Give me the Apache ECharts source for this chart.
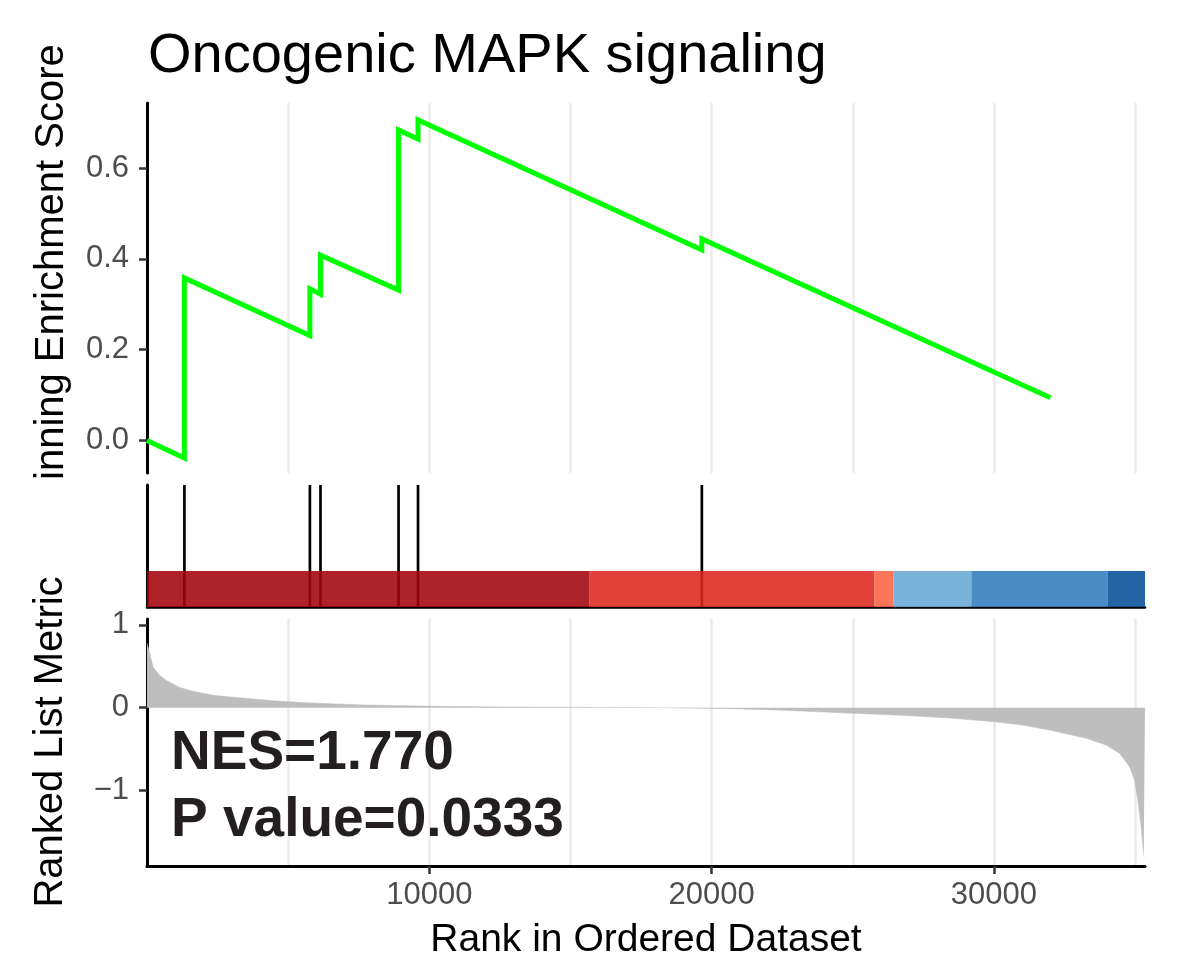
<!DOCTYPE html>
<html>
<head>
<meta charset="utf-8">
<script src="https://cdn.jsdelivr.net/npm/echarts@6/dist/echarts.min.js"></script>
<style>
html,body{margin:0;padding:0;background:#ffffff;}
#main{width:1184px;height:965px;}
</style>
</head>
<body>
<div id="main"></div>
<script>
// ---------------- data ----------------
const chartTitle = 'Oncogenic MAPK signaling';
const esAxisTitle = 'inning Enrichment Score';
const metricAxisTitle = 'Ranked List Metric';
const rankAxisTitle = 'Rank in Ordered Dataset';
const nesText = 'NES=1.770';
const pText = 'P value=0.0333';

// running enrichment score (rank, score)
const esRank  = [0, 1324, 1324, 5770, 5770, 6145, 6145, 8910, 8910, 9600, 9600, 19653, 19653, 32000];
const esValue = [0, -0.039, 0.358, 0.231, 0.334, 0.322, 0.408, 0.331, 0.684, 0.664, 0.706, 0.420, 0.444, 0.094];

// gene-set hits (ranks)
const hitRanks = [1324, 5770, 6145, 8910, 9600, 19653];

// ranked list metric (rank, value)
const metricRank  = [1, 97, 216, 452, 688, 1160, 1632, 2340, 3285, 4465, 5645, 7415, 9185, 10365, 12500, 15000, 16500, 18300, 19500, 21000, 22500, 23800, 25000, 26650, 28450, 30020, 31000, 31965, 33265, 33973, 34445, 34800, 34976, 35094, 35212, 35304, 35350];
const metricValue = [0.78, 0.66, 0.49, 0.39, 0.33, 0.245, 0.20, 0.15, 0.12, 0.085, 0.06, 0.036, 0.024, 0.017, 0.01, 0.006, 0.003, 0.0, -0.005, -0.015, -0.03, -0.05, -0.068, -0.09, -0.125, -0.17, -0.21, -0.27, -0.37, -0.45, -0.55, -0.71, -0.87, -1.11, -1.44, -1.78, -1.80];

// colour band segments
const bandStart = [0, 15680, 25770, 26440, 29200, 34020];
const bandEnd   = [15680, 25770, 26440, 29200, 34020, 35350];
const bandColor = ['#A3050C', '#DC281F', '#FA6342', '#67A9D4', '#317CBC', '#044E99'];

// ticks
const esTicks = [0, 0.2, 0.4, 0.6];
const metricTicks = [-1, 0, 1];
const rankTicks = [10000, 20000, 30000];
const rankMax = 35350;

// ---------------- chart ----------------
const FONT = '"Liberation Sans", Arial, Helvetica, sans-serif';
const L = 147, W = 998;
const chart = echarts.init(document.getElementById('main'), null, {renderer: 'canvas'});

const gridLine = {show: true, showMinLine: false, showMaxLine: false, lineStyle: {color: '#EBEBEB', width: 2.5}};
const blackLine = {show: true, onZero: false, lineStyle: {color: '#000000', width: 3}};
const tickStyle = {color: '#333333', width: 2.5};
const labelBase = {color: '#4D4D4D', fontSize: 31, fontFamily: FONT};

const option = {
  animation: false,
  backgroundColor: '#ffffff',
  grid: [
    {left: L, top: 103, width: W, height: 370},
    {left: L, top: 485, width: W, height: 122},
    {left: L, top: 619, width: W, height: 247}
  ],
  xAxis: [
    {gridIndex: 0, type: 'value', min: 0, max: rankMax, interval: 5000,
     axisLine: {show: false, onZero: false}, axisTick: {show: false}, axisLabel: {show: false},
     splitLine: gridLine},
    {gridIndex: 1, type: 'value', min: 0, max: rankMax, interval: 5000,
     axisLine: {show: true, onZero: false, lineStyle: {color: '#000000', width: 2.5}},
     axisTick: {show: false}, axisLabel: {show: false}, splitLine: {show: false}},
    {gridIndex: 2, type: 'value', min: 0, max: rankMax, interval: 5000, position: 'bottom',
     axisLine: blackLine,
     axisTick: {show: true, customValues: rankTicks, length: 8, lineStyle: tickStyle},
     axisLabel: Object.assign({customValues: rankTicks, margin: 14, formatter: v => String(v)}, labelBase),
     splitLine: {show: false}},
    // grid-line-only axis for the bottom panel
    {gridIndex: 2, type: 'value', min: 0, max: rankMax, interval: 5000, position: 'top',
     axisLine: {show: false, onZero: false}, axisTick: {show: false}, axisLabel: {show: false},
     splitLine: gridLine}
  ],
  yAxis: [
    {gridIndex: 0, type: 'value', min: -0.0718, max: 0.7433,
     axisLine: blackLine,
     axisTick: {show: true, customValues: esTicks, length: 8, lineStyle: tickStyle},
     axisLabel: Object.assign({customValues: esTicks, margin: 18, formatter: v => v.toFixed(1)}, labelBase),
     splitLine: {show: false}},
    {gridIndex: 1, type: 'value', min: 0, max: 1,
     axisLine: blackLine, axisTick: {show: false}, axisLabel: {show: false}, splitLine: {show: false}},
    {gridIndex: 2, type: 'value', min: -1.911, max: 1.071,
     axisLine: blackLine,
     axisTick: {show: true, customValues: metricTicks, length: 8, lineStyle: tickStyle},
     axisLabel: Object.assign({customValues: metricTicks, margin: 18,
       formatter: v => (v < 0 ? '\u2212' + Math.abs(v) : String(v))}, labelBase),
     splitLine: {show: false}}
  ],
  series: [
    {
      name: 'ES', type: 'line', xAxisIndex: 0, yAxisIndex: 0, z: 4,
      data: esRank.map((r, i) => [r, esValue[i]]),
      showSymbol: false, symbol: 'none',
      lineStyle: {color: '#00FF00', width: 5, join: 'miter'}
    },
    {
      name: 'hits', type: 'custom', xAxisIndex: 1, yAxisIndex: 1, z: 2,
      data: hitRanks.map(r => [r]),
      renderItem: function (params, api) {
        const r = api.value(0);
        const p0 = api.coord([r, 0]);
        const p1 = api.coord([r, 1]);
        return {type: 'line', shape: {x1: p0[0], y1: p0[1], x2: p1[0], y2: p1[1]},
                style: {stroke: '#000000', lineWidth: 2.7}};
      }
    },
    {
      name: 'band', type: 'custom', xAxisIndex: 1, yAxisIndex: 1, z: 3,
      data: bandStart.map((s, i) => [s, bandEnd[i], i]),
      renderItem: function (params, api) {
        const a = api.coord([api.value(0), 0.295]);
        const b = api.coord([api.value(1), 0]);
        return {type: 'rect', shape: {x: a[0], y: a[1], width: b[0] - a[0], height: b[1] - a[1]},
                style: {fill: bandColor[api.value(2)], opacity: 0.88}};
      }
    },
    {
      name: 'metric', type: 'line', xAxisIndex: 2, yAxisIndex: 2, z: 2,
      data: metricRank.map((r, i) => [r, metricValue[i]]),
      showSymbol: false, symbol: 'none',
      lineStyle: {width: 0.5, color: '#BEBEBE'},
      areaStyle: {color: '#BEBEBE', opacity: 1}
    }
  ],
  graphic: [
    {type: 'text', x: 148, y: 57, z: 10,
     style: {text: chartTitle, fontSize: 56, fontFamily: FONT, fill: '#000000', align: 'left', verticalAlign: 'middle'}},
    {type: 'text', x: 52, y: 480, rotation: Math.PI / 2, z: 10,
     style: {text: esAxisTitle, fontSize: 40, fontFamily: FONT, fill: '#000000', align: 'left', verticalAlign: 'middle'}},
    {type: 'text', x: 51, y: 742, rotation: Math.PI / 2, z: 10,
     style: {text: metricAxisTitle, fontSize: 40, fontFamily: FONT, fill: '#000000', align: 'center', verticalAlign: 'middle'}},
    {type: 'text', x: 646, y: 940, z: 10,
     style: {text: rankAxisTitle, fontSize: 39, fontFamily: FONT, fill: '#000000', align: 'center', verticalAlign: 'middle'}},
    {type: 'text', x: 171, y: 754, z: 10,
     style: {text: nesText, fontSize: 55, fontWeight: 'bold', fontFamily: FONT, fill: '#231F20', align: 'left', verticalAlign: 'middle'}},
    {type: 'text', x: 171, y: 821, z: 10,
     style: {text: pText, fontSize: 55, fontWeight: 'bold', fontFamily: FONT, fill: '#231F20', align: 'left', verticalAlign: 'middle'}}
  ]
};
chart.setOption(option);
</script>
</body>
</html>
